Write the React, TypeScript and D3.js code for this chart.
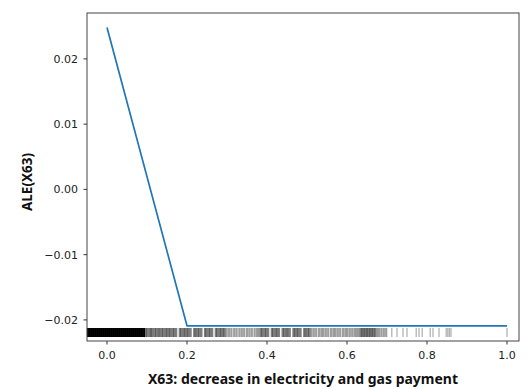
import React from "react";
import * as d3 from "d3";

const aleX = [0.0, 0.2, 0.4, 0.6, 0.8, 1.0];
const aleY = [0.0248, -0.0209, -0.0209, -0.0209, -0.0209, -0.0209];

const xTicks = [0.0, 0.2, 0.4, 0.6, 0.8, 1.0];
const yTicks = [0.02, 0.01, 0.0, -0.01, -0.02];

// rug observations, grouped by how densely they were stacked
const rugSolid = [
  -0.048, -0.045, -0.043, -0.04, -0.038, -0.035, -0.033, -0.03, -0.028, -0.025,
  -0.023, -0.02, -0.018, -0.015, -0.013, -0.01, -0.008, -0.005, -0.003, 0.0,
  0.002, 0.005, 0.007, 0.01, 0.012, 0.015, 0.017, 0.02, 0.022, 0.025, 0.027,
  0.03, 0.032, 0.035, 0.037, 0.04, 0.042, 0.045, 0.047, 0.05, 0.052, 0.055,
  0.057, 0.06, 0.062, 0.065, 0.067, 0.07, 0.072, 0.075, 0.077, 0.08, 0.082,
  0.085, 0.087, 0.09, 0.093,
];
const rugDark = [
  0.097, 0.101, 0.106, 0.11, 0.114, 0.119, 0.123, 0.128, 0.132, 0.137, 0.141,
  0.146, 0.15, 0.155, 0.159, 0.164, 0.168, 0.173, 0.182, 0.186, 0.191, 0.195,
  0.2, 0.204, 0.209, 0.218, 0.222, 0.227, 0.231, 0.236, 0.245, 0.249, 0.254,
  0.258, 0.263, 0.272, 0.276, 0.281, 0.285, 0.29, 0.294, 0.385, 0.389, 0.394,
  0.398, 0.403, 0.412, 0.416, 0.421, 0.425, 0.43, 0.439, 0.443, 0.448, 0.452,
  0.457, 0.466, 0.47, 0.475, 0.479, 0.484, 0.493, 0.497, 0.502, 0.506, 0.634,
  0.638, 0.642, 0.646, 0.65, 0.654, 0.658, 0.662, 0.666, 0.67,
];
const rugMid = [
  0.299, 0.305, 0.311, 0.318, 0.324, 0.331, 0.337, 0.343, 0.35, 0.356, 0.362,
  0.369, 0.375, 0.38, 0.511, 0.517, 0.523, 0.53, 0.536, 0.541, 0.547, 0.553,
  0.56, 0.566, 0.571, 0.577, 0.583, 0.59, 0.596, 0.601, 0.607, 0.613, 0.619,
  0.624, 0.629, 0.675, 0.68, 0.686, 0.692, 0.698,
];
const rugSparse = [
  0.712, 0.725, 0.74, 0.75, 0.773, 0.78, 0.788, 0.808, 0.815, 0.83, 0.848,
  0.852, 0.856, 0.86, 1.0,
];

const W = 532;
const H = 389;
const left = 87;
const right = 519;
const top = 13;
const bottom = 341;

export default function App() {
  const x = d3.scaleLinear().domain([-0.05, 1.03]).range([left, right]);
  const y = d3.scaleLinear().domain([-0.02323, 0.02703]).range([bottom, top]);
  const line = d3
    .line<number>()
    .x((_, i) => x(aleX[i]))
    .y((d) => y(d));
  const rugTop = 328;
  const rugBot = 337;
  const tickFont = "'DejaVu Sans', sans-serif";
  const rug = (vals: number[], op: number, w: number, key: string) =>
    vals.map((v, i) => (
      <line
        key={key + i}
        x1={x(v)}
        x2={x(v)}
        y1={rugTop}
        y2={rugBot}
        stroke="#000"
        strokeOpacity={op}
        strokeWidth={w}
      />
    ));
  return (
    <svg
      width={W}
      height={H}
      style={{ position: "absolute", left: 0, top: 0, background: "#fff" }}
    >
      <rect x={0} y={0} width={W} height={H} fill="#fff" />
      {rug(rugSolid, 1, 1.8, "s")}
      {rug(rugDark, 0.5, 2.2, "d")}
      {rug(rugMid, 0.38, 2.2, "m")}
      {rug(rugSparse, 0.3, 1.3, "p")}
      <path
        d={line(aleY) || ""}
        fill="none"
        stroke="#1f77b4"
        strokeWidth={1.7}
        strokeLinejoin="round"
      />
      <rect
        x={left}
        y={top}
        width={right - left}
        height={bottom - top}
        fill="none"
        stroke="#444"
        strokeWidth={1}
      />
      {xTicks.map((t) => (
        <g key={"xt" + t}>
          <line x1={x(t)} x2={x(t)} y1={bottom} y2={bottom + 3.5} stroke="#333" />
          <text
            x={x(t)}
            y={359}
            textAnchor="middle"
            fontFamily={tickFont}
            fontSize={11}
            fill="#222"
          >
            {t.toFixed(1)}
          </text>
        </g>
      ))}
      {yTicks.map((t) => (
        <g key={"yt" + t}>
          <line x1={left - 3.5} x2={left} y1={y(t)} y2={y(t)} stroke="#333" />
          <text
            x={78}
            y={y(t)}
            dy="0.35em"
            textAnchor="end"
            fontFamily={tickFont}
            fontSize={11}
            fill="#222"
          >
            {(t < 0 ? "\u2212" : "") + Math.abs(t).toFixed(2)}
          </text>
        </g>
      ))}
      <text
        x={(left + right) / 2}
        y={384}
        textAnchor="middle"
        fontFamily="'Noto Sans', sans-serif"
        fontWeight="bold"
        fontSize={14}
        fill="#111"
      >
        X63: decrease in electricity and gas payment
      </text>
      <text
        transform={`translate(32, ${(top + bottom) / 2 + 5}) rotate(-90)`}
        textAnchor="middle"
        fontFamily="'Noto Sans', sans-serif"
        fontWeight="bold"
        fontSize={13.5}
        fill="#111"
      >
        ALE(X63)
      </text>
    </svg>
  );
}
